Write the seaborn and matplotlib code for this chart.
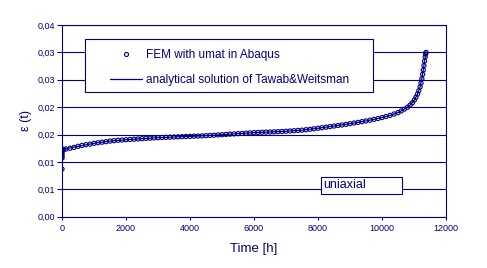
import matplotlib
matplotlib.use("Agg")
import matplotlib.pyplot as plt
from matplotlib.lines import Line2D
from matplotlib.patches import Rectangle
import seaborn as sns
import pandas as pd

# ---- data ----
fem_t = [0, 0, 0, 0, 0, 0, 0, 10, 25, 50,
         125, 250, 375, 500, 625, 750, 875, 1000, 1125, 1250,
         1375, 1500, 1625, 1750, 1875, 2000, 2125, 2250, 2375, 2500,
         2625, 2750, 2875, 3000, 3125, 3250, 3375, 3500, 3625, 3750,
         3875, 4000, 4125, 4250, 4375, 4500, 4625, 4750, 4875, 5000,
         5125, 5250, 5375, 5500, 5625, 5750, 5875, 6000, 6125, 6250,
         6375, 6500, 6625, 6750, 6875, 7000, 7125, 7250, 7375, 7500,
         7625, 7750, 7875, 8000, 8125, 8250, 8375, 8500, 8625, 8750,
         8875, 9000, 9125, 9250, 9375, 9500, 9625, 9750, 9875, 10000,
         10125, 10250, 10375, 10500, 10600, 10700, 10800, 10880, 10950, 11010,
         11060, 11110, 11150, 11190, 11220, 11245, 11270, 11290, 11310, 11330,
         11350, 11365, 11375]
fem_eps = [0.0087, 0.0107, 0.0110, 0.0113, 0.0116, 0.0119, 0.0121, 0.0122, 0.0123, 0.0123,
           0.01235, 0.01250, 0.01265, 0.01285, 0.01300, 0.01315, 0.01325, 0.01340, 0.01350, 0.01360,
           0.01370, 0.01380, 0.01388, 0.01395, 0.01400, 0.01405, 0.01410, 0.01415, 0.01420, 0.01425,
           0.01430, 0.01434, 0.01438, 0.01442, 0.01446, 0.01450, 0.01452, 0.01455, 0.01458, 0.01461,
           0.01464, 0.01467, 0.01470, 0.01473, 0.01476, 0.01480, 0.01484, 0.01488, 0.01493, 0.01498,
           0.01502, 0.01507, 0.01512, 0.01516, 0.01520, 0.01525, 0.01530, 0.01535, 0.01538, 0.01541,
           0.01544, 0.01547, 0.01550, 0.01553, 0.01556, 0.01560, 0.01565, 0.01570, 0.01575, 0.01580,
           0.01588, 0.01596, 0.01605, 0.01615, 0.01625, 0.01635, 0.01645, 0.01655, 0.01665, 0.01675,
           0.01685, 0.01698, 0.01710, 0.01722, 0.01735, 0.01748, 0.01762, 0.01778, 0.01793, 0.01810,
           0.01830, 0.01850, 0.01875, 0.01900, 0.01930, 0.01965, 0.02000, 0.02040, 0.02080, 0.02130,
           0.02180, 0.02240, 0.02300, 0.02370, 0.02440, 0.02520, 0.02600, 0.02680, 0.02760, 0.02840,
           0.02920, 0.02970, 0.03000]

ana_t = [0, 50, 200, 500, 1000, 1500, 2000, 2500, 3000, 3500, 4000, 4500, 5000, 5500,
         6000, 6500, 7000, 7500, 8000, 8500, 9000, 9500, 10000, 10250, 10500, 10700,
         10880, 11010, 11110, 11190, 11245, 11290, 11330, 11375]
ana_eps = [0.0107, 0.0122, 0.0125, 0.01285, 0.0134, 0.0138, 0.01405, 0.01425, 0.01442, 0.01455,
           0.01467, 0.0148, 0.01498, 0.01516, 0.01535, 0.01547, 0.0156, 0.0158, 0.01615, 0.01655,
           0.01698, 0.01748, 0.0181, 0.0185, 0.019, 0.01965, 0.0204, 0.0213, 0.0224, 0.0237,
           0.0252, 0.0268, 0.0284, 0.0300]

x_ticks = [0, 2000, 4000, 6000, 8000, 10000, 12000]
y_ticks = [0.0, 0.005, 0.010, 0.015, 0.020, 0.025, 0.030, 0.035]
y_tick_labels = ["0,00", "0,01", "0,01", "0,02", "0,02", "0,03", "0,03", "0,04"]

legend_labels = ["FEM with umat in Abaqus", "analytical solution of Tawab&Weitsman"]
note_text = "uniaxial"
x_label = "Time [h]"
y_label = "ε (t)"

NAVY = "#000080"

sns.set_style("white")
plt.rcParams["font.family"] = ["Liberation Sans", "DejaVu Sans"]

W, H = 487, 268
fig = plt.figure(figsize=(W / 100, H / 100), dpi=100)
fig.patch.set_facecolor("white")
L, R, T, B = 62, 446, 25, 216.7
ax = fig.add_axes([L / W, 1 - B / H, (R - L) / W, (B - T) / H])

fem = pd.DataFrame({"t": fem_t, "eps": fem_eps})
ana = pd.DataFrame({"t": ana_t, "eps": ana_eps})

sns.lineplot(data=ana, x="t", y="eps", ax=ax, color=NAVY, lw=0.9,
             sort=False, estimator=None, zorder=3)
sns.scatterplot(data=fem, x="t", y="eps", ax=ax, marker="o", s=9,
                facecolors="none", edgecolor=NAVY, linewidth=0.8, zorder=4)

ax.set_xlim(0, 12000)
ax.set_ylim(0, 0.035)
ax.set_xticks(x_ticks)
ax.set_xticklabels([str(v) for v in x_ticks])
ax.set_yticks(y_ticks)
ax.set_yticklabels(y_tick_labels)

ax.grid(axis="y", color=NAVY, lw=0.8, zorder=1)
ax.set_axisbelow(True)
for s in ax.spines.values():
    s.set_color(NAVY)
    s.set_linewidth(0.8)

ax.tick_params(axis="both", colors=NAVY, labelcolor=NAVY, labelsize=6.5,
               direction="out", width=0.8)
ax.tick_params(axis="y", length=3.5, pad=1.5, left=True)
ax.tick_params(axis="x", length=2.5, pad=3, bottom=True)

ax.set_xlabel(x_label, color=NAVY, fontsize=9.5, labelpad=7)
ax.set_ylabel(y_label, color=NAVY, fontsize=9, labelpad=4)

# legend box
box = Rectangle((85 / W, 1 - 91.7 / H), 288 / W, 52.4 / H, transform=fig.transFigure,
                facecolor="white", edgecolor=NAVY, lw=0.8, zorder=5, clip_on=False)
ax.add_patch(box)
handles = [Line2D([], [], ls="none", marker="o", ms=2.9, mfc="none", mec=NAVY, mew=0.8),
           Line2D([], [], color=NAVY, lw=0.9)]
leg = ax.legend(handles, legend_labels, loc="upper left",
                bbox_to_anchor=(110 / W, 1 - 48.7 / H), bbox_transform=fig.transFigure,
                frameon=False, fontsize=8.5, handlelength=2.7, handletextpad=0.35,
                labelspacing=1.12, borderpad=0, borderaxespad=0)
for tx in leg.get_texts():
    tx.set_color(NAVY)
leg.set_zorder(6)

# "uniaxial" box
ubox = Rectangle((321 / W, 1 - 194.3 / H), 81 / W, 17.6 / H, transform=fig.transFigure,
                 facecolor="white", edgecolor=NAVY, lw=0.8, zorder=5, clip_on=False)
ax.add_patch(ubox)
fig.text(323 / W, 1 - 185.5 / H, note_text, color=NAVY, fontsize=9,
         ha="left", va="center", zorder=6)

fig.savefig("out.png", dpi=100, facecolor="white")
